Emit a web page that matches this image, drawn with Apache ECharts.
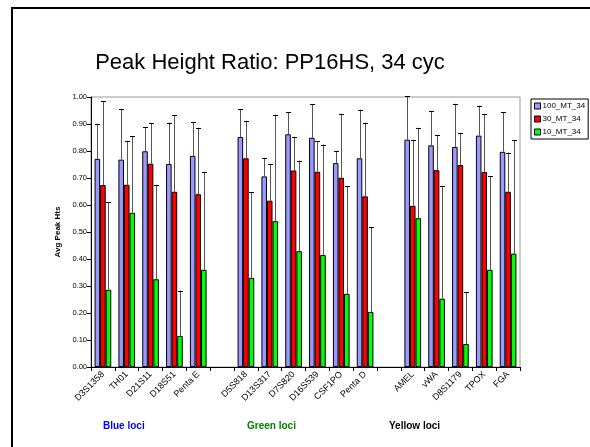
<!DOCTYPE html>
<html><head><meta charset="utf-8">
<script src="https://cdn.jsdelivr.net/npm/echarts@6/dist/echarts.min.js"></script>
<style>html,body{margin:0;padding:0;background:#fff}#c{width:590px;height:447px}</style>
</head><body><div id="c"></div>
<script>
const categories = ['D3S1358','TH01','D21S11','D18S51','Penta E','','D5S818','D13S317','D7S820','D16S539','CSF1PO','Penta D','','AMEL','vWA','D8S1179','TPOX','FGA'];
const seriesNames = ['100_MT_34','30_MT_34','10_MT_34'];
const v100 = [0.771,0.768,0.799,0.752,0.782,null,0.852,0.706,0.862,0.849,0.755,0.773,null,0.842,0.821,0.815,0.857,0.797];
const v30  = [0.674,0.675,0.753,0.649,0.640,null,0.773,0.616,0.728,0.723,0.701,0.632,null,0.597,0.729,0.748,0.722,0.649];
const v10  = [0.286,0.571,0.325,0.115,0.360,null,0.330,0.540,0.429,0.415,0.271,0.204,null,0.551,0.253,0.085,0.360,0.420];
const e100 = [0.901,0.956,0.889,0.905,0.906,null,0.954,0.773,0.944,0.974,0.801,0.953,null,1.003,0.949,0.975,0.968,0.943];
const e30  = [0.985,0.838,0.904,0.932,0.886,null,0.911,0.752,0.853,0.836,0.938,0.905,null,0.839,0.858,0.867,0.938,0.794];
const e10  = [0.611,0.855,0.675,0.283,0.723,null,0.648,0.935,0.764,0.824,0.669,0.518,null,0.886,0.670,0.277,0.707,0.841];
const yTicks = ['0.00','0.10','0.20','0.30','0.40','0.50','0.60','0.70','0.80','0.90','1.00'];
const groupLabels = ['Blue loci','Green loci','Yellow loci'];

const colors = ['#9999FF','#FF0000','#00FF00'];
const values = [v100, v30, v10];
const errs = [e100, e30, e10];
const FONT = 'Arial, "Liberation Sans", sans-serif';
const gapFrac = 0.30;

const series = [];
values.forEach((vals, i) => {
  series.push({
    name: seriesNames[i], type: 'bar', data: vals.map(v => v == null ? '-' : v),
    barGap: '0%', barCategoryGap: (gapFrac*100)+'%',
    itemStyle: {color: colors[i], borderColor: '#000', borderWidth: 1},
    emphasis: {disabled: true}, z: 2
  });
});
errs.forEach((ev, i) => {
  const data = [];
  ev.forEach((e, k) => { if (e != null) data.push([k, values[i][k], e]); });
  series.push({
    type: 'custom', name: 'err' + i, z: 3, silent: true,
    data: data, encode: {x: 0, y: [1, 2]},
    renderItem: function (params, api) {
      const k = api.value(0);
      const band = api.size([1, 0])[0];
      const bw = band * (1 - gapFrac) / 3;
      const off = (i - 1) * bw;
      const p0 = api.coord([k, api.value(1)]);
      const p1 = api.coord([k, api.value(2)]);
      const x = Math.round(p0[0] + off) + 0.5;
      return {type: 'group', children: [
        {type: 'line', shape: {x1: x, y1: p0[1], x2: x, y2: p1[1]}, style: {stroke: '#555', lineWidth: 1}},
        {type: 'line', shape: {x1: x - 2.5, y1: Math.round(p1[1]) + 0.5, x2: x + 2.5, y2: Math.round(p1[1]) + 0.5}, style: {stroke: '#000', lineWidth: 1}}
      ]};
    }
  });
});

const chart = echarts.init(document.getElementById('c'), null, {renderer: 'canvas'});
chart.setOption({
  backgroundColor: '#fff',
  animation: false,
  legend: {
    data: seriesNames, orient: 'vertical', left: 531, top: 99, width: 57,
    itemWidth: 6, itemHeight: 6, itemGap: 5, icon: 'rect', padding: [3, 3, 3, 3],
    borderColor: '#000', borderWidth: 1, backgroundColor: '#fff',
    textStyle: {fontFamily: FONT, fontSize: 8, color: '#000', padding: [0, 0, 0, -3]},
    itemStyle: {borderColor: '#000', borderWidth: 1}, selectedMode: false
  },
  grid: {left: 91, right: 70, top: 97, bottom: 80, show: true, borderColor: '#999', borderWidth: 1},
  xAxis: {
    type: 'category', data: categories,
    axisLine: {lineStyle: {color: '#000', width: 1}},
    axisTick: {show: true, inside: false, length: 4, alignWithLabel: false, lineStyle: {color: '#000'}},
    axisLabel: {interval: 0, rotate: 45, fontFamily: FONT, fontSize: 9, color: '#000', margin: 6},
    splitLine: {show: false}
  },
  yAxis: {
    type: 'value', min: 0, max: 1, interval: 0.1,
    name: 'Avg Peak Hts', nameLocation: 'middle', nameGap: 24,
    nameTextStyle: {fontFamily: FONT, fontSize: 8, fontWeight: 'bold', color: '#000'},
    axisLine: {show: true, lineStyle: {color: '#000'}},
    axisTick: {show: true, length: 4, lineStyle: {color: '#000'}},
    axisLabel: {fontFamily: FONT, fontSize: 7.5, color: '#000', margin: 4,
      formatter: (v) => yTicks[Math.round(v * 10)]},
    splitLine: {show: false}
  },
  graphic: [
    {type: 'rect', shape: {x: 12, y: 8, width: 700, height: 600}, style: {fill: 'none', stroke: '#000', lineWidth: 2}, silent: true, z: 100},
    {type: 'text', x: 270, y: 63, style: {text: 'Peak Height Ratio: PP16HS, 34 cyc', fill: '#000', font: '22px ' + FONT, textAlign: 'center', textVerticalAlign: 'middle'}},
    {type: 'text', x: 103, y: 426, style: {text: groupLabels[0], fill: '#0000FF', font: 'bold 10px ' + FONT, textVerticalAlign: 'middle'}},
    {type: 'text', x: 247, y: 426, style: {text: groupLabels[1], fill: '#008000', font: 'bold 10px ' + FONT, textVerticalAlign: 'middle'}},
    {type: 'text', x: 389, y: 426, style: {text: groupLabels[2], fill: '#000', font: 'bold 10px ' + FONT, textVerticalAlign: 'middle'}}
  ],
  series: series
});
</script></body></html>
